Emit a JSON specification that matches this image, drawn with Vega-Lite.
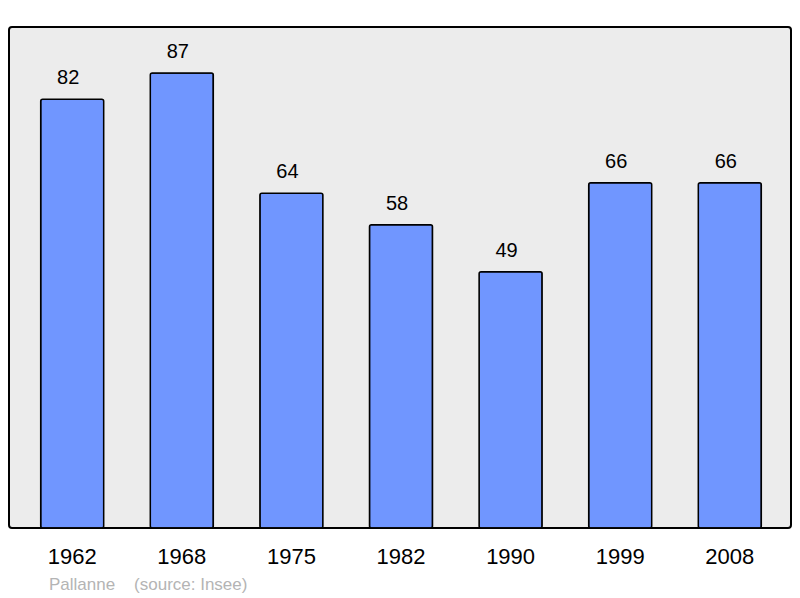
{
  "$schema": "https://vega.github.io/schema/vega-lite/v6.json",
  "autosize": {"type": "none"},
  "width": 782,
  "height": 501,
  "padding": {"left": 9, "top": 27, "right": 9, "bottom": 70},
  "background": "white",
  "data": {"values": [
    {"year": "1962", "pop": 82},
    {"year": "1968", "pop": 87},
    {"year": "1975", "pop": 64},
    {"year": "1982", "pop": 58},
    {"year": "1990", "pop": 49},
    {"year": "1999", "pop": 66},
    {"year": "2008", "pop": 66}
  ]},
  "config": {
    "font": "Liberation Sans",
    "view": {"fill": "#ececec", "stroke": "#000000", "strokeWidth": 2, "cornerRadius": 3}
  },
  "title": {
    "text": "Pallanne\u00a0\u00a0\u00a0\u00a0(source: Insee)",
    "orient": "bottom",
    "anchor": "start",
    "dx": 40,
    "offset": 10,
    "fontSize": 17,
    "fontWeight": "normal",
    "color": "#b4b4b4",
    "font": "Liberation Sans"
  },
  "encoding": {
    "x": {
      "field": "year",
      "type": "ordinal",
      "scale": {"paddingInner": 0.425, "paddingOuter": 0.28, "range": [1, 783]},
      "axis": {
        "title": null,
        "domain": false,
        "ticks": false,
        "labelAngle": 0,
        "labelFontSize": 22,
        "labelColor": "#000000",
        "labelBaseline": "alphabetic",
        "labelPadding": 35,
        "labelFont": "Liberation Sans"
      }
    },
    "y": {
      "field": "pop",
      "type": "quantitative",
      "scale": {"domain": [0, 95.8], "nice": false},
      "axis": null
    }
  },
  "layer": [
    {
      "mark": {"type": "bar", "fill": "#7096ff", "stroke": "#000000", "strokeWidth": 1.5, "cornerRadius": 2}
    },
    {
      "mark": {"type": "text", "baseline": "alphabetic", "dx": -4, "dy": -15, "fontSize": 20, "color": "#000000", "font": "Liberation Sans"},
      "encoding": {"text": {"field": "pop", "type": "quantitative"}}
    }
  ]
}
